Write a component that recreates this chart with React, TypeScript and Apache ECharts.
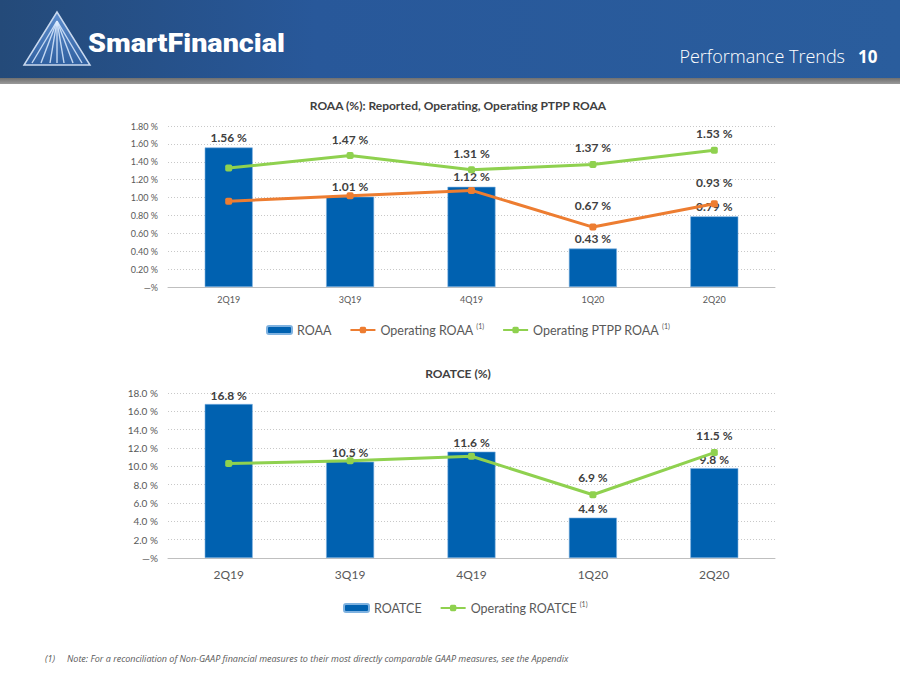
import React, { useEffect, useRef } from "react";
import * as echarts from "echarts";

const categories = ["2Q19", "3Q19", "4Q19", "1Q20", "2Q20"];
const roaa = [1.56, 1.01, 1.12, 0.43, 0.79];
const operatingRoaa = [0.96, 1.02, 1.08, 0.67, 0.93];
const operatingRoaaLabelShown = [false, false, false, true, true];
const ptppRoaa = [1.33, 1.47, 1.31, 1.37, 1.53];
const ptppRoaaLabelShown = [false, true, true, true, true];
const roatce = [16.8, 10.5, 11.6, 4.4, 9.8];
const operatingRoatce = [10.3, 10.6, 11.1, 6.9, 11.5];
const operatingRoatceLabelShown = [false, false, false, true, true];

const FONT = "Lato, 'Open Sans', sans-serif";
const BLUE = "#0061B0";
const ORANGE = "#ED7D31";
const GREEN = "#8FD14F";
const TXT = "#404040";
const AX = "#595959";

export default function App() {
  const ref = useRef<HTMLDivElement>(null);
  useEffect(() => {
    if (!ref.current) return;
    const chart = echarts.init(ref.current, null, { renderer: "svg" });

    const labelStyle = {
      fontFamily: FONT,
      fontWeight: "bold" as const,
      fontSize: 12,
      color: TXT,
    };

    const rays: any[] = [];
    const apex = [57, 13];
    const baseXs = [32, 41, 50, 57, 64, 73, 82];
    baseXs.forEach((bx) => {
      rays.push({
        type: "line",
        shape: { x1: apex[0], y1: apex[1] + 8, x2: bx, y2: 63 },
        style: { stroke: "rgba(220,235,255,0.85)", lineWidth: 1.4 },
        silent: true,
      });
    });

    const legendRich = {
      n: { fontFamily: FONT, fontSize: 12.5, color: AX, lineHeight: 16 },
      s: { fontFamily: FONT, fontSize: 7, color: AX, verticalAlign: "top", lineHeight: 16, padding: [0, 0, 6, 3] },
    };

    const option: any = {
      animation: false,
      backgroundColor: "#ffffff",
      textStyle: { fontFamily: FONT },
      title: [
        {
          text: "ROAA (%): Reported, Operating, Operating PTPP ROAA",
          left: 453,
          textAlign: "center",
          top: 94,
          textStyle: { fontFamily: FONT, fontSize: 12, fontWeight: "bold", color: TXT },
        },
        {
          text: "ROATCE (%)",
          left: 453,
          textAlign: "center",
          top: 362,
          textStyle: { fontFamily: FONT, fontSize: 12, fontWeight: "bold", color: TXT },
        },
      ],
      legend: [
        {
          data: ["ROAA", "Operating ROAA", "Operating PTPP ROAA"],
          top: 317,
          left: 261,
          itemWidth: 25,
          itemHeight: 8,
          itemGap: 18,
          formatter: (name: string) => (name === "ROAA" ? `{n|${name}}` : `{n|${name}}{s|(1)}`),
          textStyle: { rich: legendRich },
        },
        {
          data: ["ROATCE", "Operating ROATCE"],
          top: 595,
          left: 338,
          itemWidth: 25,
          itemHeight: 8,
          itemGap: 18,
          formatter: (name: string) => (name === "ROATCE" ? `{n|${name}}` : `{n|${name}}{s|(1)}`),
          textStyle: { rich: legendRich },
        },
      ],
      grid: [
        { left: 168, right: 125, top: 126, height: 161 },
        { left: 168, right: 125, top: 393, height: 165 },
      ],
      xAxis: [
        {
          gridIndex: 0,
          type: "category",
          data: categories,
          axisTick: { show: false },
          axisLine: { lineStyle: { color: "#bfbfbf" } },
          axisLabel: { fontFamily: FONT, fontSize: 9, color: AX, margin: 8 },
        },
        {
          gridIndex: 1,
          type: "category",
          data: categories,
          axisTick: { show: false },
          axisLine: { lineStyle: { color: "#bfbfbf" } },
          axisLabel: { fontFamily: FONT, fontSize: 12, color: AX, margin: 10 },
        },
      ],
      yAxis: [
        {
          gridIndex: 0,
          type: "value",
          min: 0,
          max: 1.8,
          interval: 0.2,
          axisLine: { show: false },
          axisTick: { show: false },
          splitLine: { lineStyle: { color: "#c8c8c8", type: [1, 2] } },
          axisLabel: {
            fontFamily: FONT,
            fontSize: 9,
            color: AX,
            margin: 10,
            formatter: (v: number) => (v === 0 ? "—%" : v.toFixed(2) + " %"),
          },
        },
        {
          gridIndex: 1,
          type: "value",
          min: 0,
          max: 18,
          interval: 2,
          axisLine: { show: false },
          axisTick: { show: false },
          splitLine: { lineStyle: { color: "#c8c8c8", type: [1, 2] } },
          axisLabel: {
            fontFamily: FONT,
            fontSize: 10,
            color: AX,
            margin: 10,
            formatter: (v: number) => (v === 0 ? "—%" : v.toFixed(1) + " %"),
          },
        },
      ],
      series: [
        {
          name: "ROAA",
          type: "bar",
          xAxisIndex: 0,
          yAxisIndex: 0,
          data: roaa,
          barWidth: 48,
          itemStyle: { color: BLUE, borderColor: "#7fb2e0", borderWidth: 0.6 },
          label: {
            show: true,
            position: "top",
            distance: 4,
            ...labelStyle,
            formatter: (p: any) => p.value.toFixed(2) + " %",
          },
        },
        {
          name: "Operating ROAA",
          type: "line",
          xAxisIndex: 0,
          yAxisIndex: 0,
          data: operatingRoaa.map((v, i) => ({
            value: v,
            label: { show: operatingRoaaLabelShown[i] },
          })),
          symbol: "roundRect",
          symbolSize: 7,
          lineStyle: { color: ORANGE, width: 3 },
          itemStyle: { color: ORANGE },
          label: {
            position: "top",
            distance: 12,
            ...labelStyle,
            formatter: (p: any) => p.value.toFixed(2) + " %",
          },
        },
        {
          name: "Operating PTPP ROAA",
          type: "line",
          xAxisIndex: 0,
          yAxisIndex: 0,
          data: ptppRoaa.map((v, i) => ({
            value: v,
            label: { show: ptppRoaaLabelShown[i] },
          })),
          symbol: "roundRect",
          symbolSize: 7,
          lineStyle: { color: GREEN, width: 3 },
          itemStyle: { color: GREEN },
          label: {
            position: "top",
            distance: 7,
            ...labelStyle,
            formatter: (p: any) => p.value.toFixed(2) + " %",
          },
        },
        {
          name: "ROATCE",
          type: "bar",
          xAxisIndex: 1,
          yAxisIndex: 1,
          data: roatce,
          barWidth: 48,
          itemStyle: { color: BLUE, borderColor: "#7fb2e0", borderWidth: 0.6 },
          label: {
            show: true,
            position: "top",
            distance: 3,
            ...labelStyle,
            formatter: (p: any) => p.value.toFixed(1) + " %",
          },
        },
        {
          name: "Operating ROATCE",
          type: "line",
          xAxisIndex: 1,
          yAxisIndex: 1,
          data: operatingRoatce.map((v, i) => ({
            value: v,
            label: { show: operatingRoatceLabelShown[i] },
          })),
          symbol: "roundRect",
          symbolSize: 7,
          lineStyle: { color: GREEN, width: 3 },
          itemStyle: { color: GREEN },
          label: {
            position: "top",
            distance: 8,
            ...labelStyle,
            formatter: (p: any) => p.value.toFixed(1) + " %",
          },
        },
      ],
      graphic: [
        {
          type: "rect",
          shape: { x: 0, y: 0, width: 900, height: 78 },
          style: {
            fill: new echarts.graphic.LinearGradient(0, 0, 1, 0, [
              { offset: 0, color: "#244a79" },
              { offset: 0.35, color: "#28589a" },
              { offset: 1, color: "#2a5d9d" },
            ]),
          },
          silent: true,
        },
        {
          type: "rect",
          shape: { x: 0, y: 78, width: 900, height: 6 },
          style: {
            fill: new echarts.graphic.LinearGradient(0, 0, 0, 1, [
              { offset: 0, color: "#6f6f6f" },
              { offset: 1, color: "#9a9a9a" },
            ]),
          },
          silent: true,
        },
        {
          type: "polygon",
          shape: { points: [[57, 12], [24, 65], [90, 65]] },
          style: {
            fill: new echarts.graphic.LinearGradient(0, 0, 0, 1, [
              { offset: 0, color: "#5f8fcf" },
              { offset: 1, color: "#2f5f9f" },
            ]),
            stroke: "#c9d9ef",
            lineWidth: 1.5,
          },
          silent: true,
        },
        ...rays,
        {
          type: "text",
          x: 88,
          y: 44,
          scaleX: 1.15,
          style: {
            text: "SmartFinancial",
            fill: "#ffffff",
            font: "900 25px Roboto, 'Liberation Sans', sans-serif",
            textVerticalAlign: "middle",
          },
          silent: true,
        },
        {
          type: "text",
          x: 845,
          y: 56,
          style: {
            text: "Performance Trends",
            fill: "#ffffff",
            font: "300 18px 'Open Sans', sans-serif",
            textAlign: "right",
            textVerticalAlign: "middle",
          },
          silent: true,
        },
        {
          type: "text",
          x: 858,
          y: 56,
          style: {
            text: "10",
            fill: "#ffffff",
            font: "bold 17px 'Open Sans', sans-serif",
            textVerticalAlign: "middle",
          },
          silent: true,
        },
        {
          type: "text",
          x: 45,
          y: 658,
          style: {
            text: "(1)",
            fill: AX,
            font: "italic 9px 'Open Sans', sans-serif",
            textVerticalAlign: "middle",
          },
          silent: true,
        },
        {
          type: "text",
          x: 67,
          y: 658,
          style: {
            text: "Note: For a reconciliation of Non-GAAP financial measures to their most directly comparable GAAP measures, see the Appendix",
            fill: AX,
            font: "italic 9px 'Open Sans', sans-serif",
            textVerticalAlign: "middle",
          },
          silent: true,
        },
      ],
    };

    chart.setOption(option);
    return () => chart.dispose();
  }, []);

  return (
    <div
      ref={ref}
      style={{ position: "fixed", left: 0, top: 0, width: 900, height: 675, background: "#fff" }}
    />
  );
}
